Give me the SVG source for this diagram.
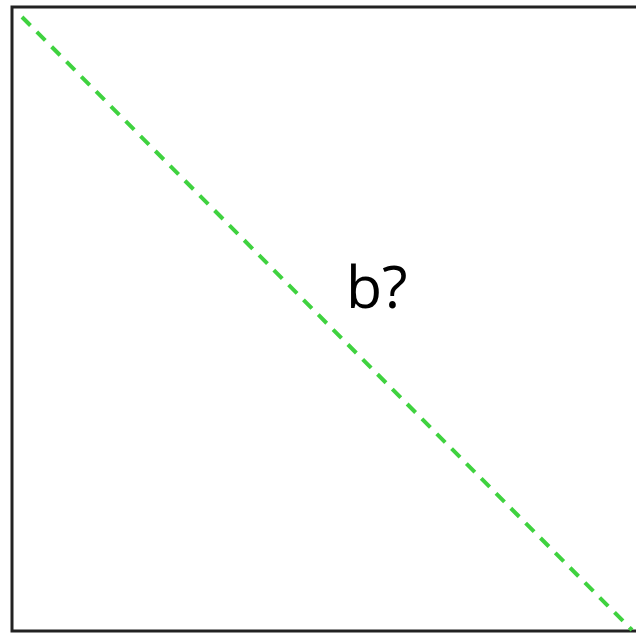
<svg xmlns="http://www.w3.org/2000/svg" width="636" height="636" viewBox="0 0 636 636">
<style>
.frame{fill:none;stroke:#222;stroke-width:3}
.edge{fill:none;stroke:#3fd23f;stroke-width:4;stroke-dasharray:12 9}
.lbl{font-family:"Open Sans","Noto Sans",sans-serif;font-size:59px;fill:#000}
</style>
<rect width="636" height="636" fill="#fff"/>
<g id="frame">
<path class="frame" d="M636 7 H12 V631 H636"/>
</g>
<g id="connectors">
<path class="edge" d="M22 17 L632 630"/>
</g>
<g id="label">
<text class="lbl" x="346" y="308">b?</text>
</g>
</svg>
